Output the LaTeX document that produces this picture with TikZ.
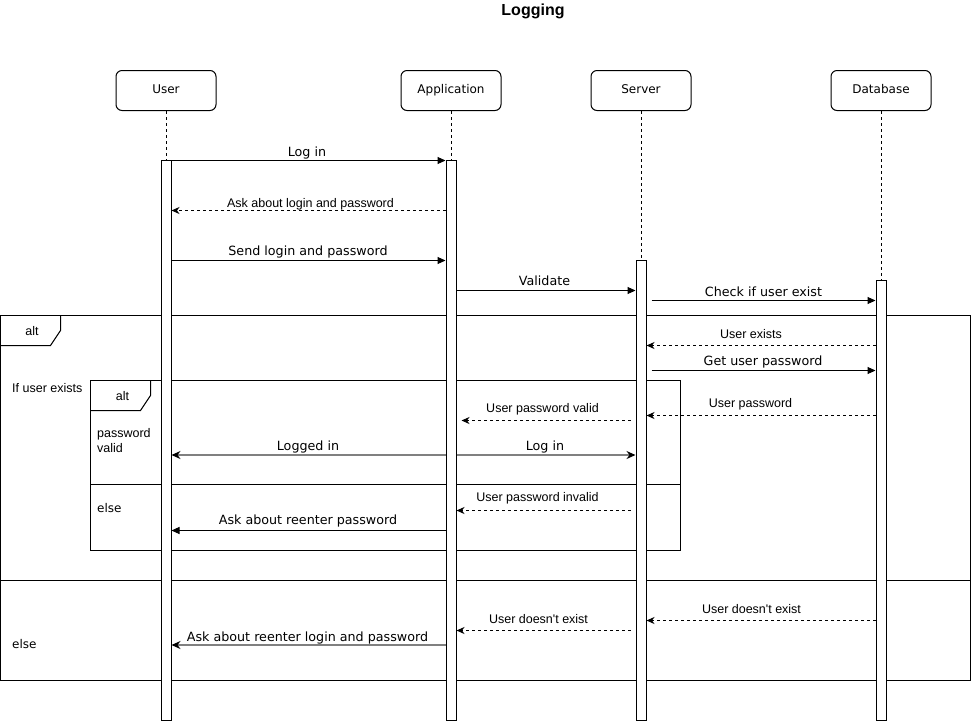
\documentclass[tikz,border=0pt]{standalone}
\usepackage{fontspec}
\setmainfont{DejaVu Sans}
\newfontfamily\arialfont{Liberation Sans}
\usetikzlibrary{arrows.meta}

\begin{document}
\begin{tikzpicture}[x=1pt,y=-1pt,
  every node/.style={inner sep=0pt},
  actor/.style={draw, line width=1pt, rounded corners=6pt, minimum width=100pt,
    minimum height=40pt, font=\fontsize{12}{14}\selectfont},
  bar/.style={draw, fill=white, line width=1pt, minimum width=10pt},
  life/.style={line width=1pt, dash pattern=on 3pt off 3pt},
  frm/.style={draw, line width=1pt},
  call/.style={line width=1pt, -{Triangle[length=8pt,width=7pt]}},
  hcall/.style={line width=2pt, draw=black!50,
    -{Stealth[length=9pt,width=8pt,inset=3pt,color=black]}},
  reply/.style={line width=1pt, dash pattern=on 3pt off 3pt,
    -{Stealth[length=8pt,width=7pt,inset=2.5pt]}},
  lbl/.style={font=\fontsize{12.7}{15}\selectfont, yshift=-0.8pt},
  slbl/.style={font=\arialfont\fontsize{12.5}{15}\selectfont, yshift=-0.8pt},
  guard/.style={font=\fontsize{12}{15}\selectfont, anchor=west, yshift=-0.8pt}
]
\useasboundingbox (0,0) rectangle (971,721);

% title
\node[font=\arialfont\bfseries\fontsize{16}{19}\selectfont, yshift=-0.8pt] (title) at (533,11) {Logging};

% participants
\node[actor, text height=9pt, text depth=2.5pt] (user) at (166,90.5) {User};
\node[actor, text height=9pt, text depth=2.5pt] (app)  at (451,90.5) {Application};
\node[actor, text height=9pt, text depth=2.5pt] (srv)  at (641,90.5) {Server};
\node[actor, text height=9pt, text depth=2.5pt] (db)   at (881,90.5) {Database};

% combined fragments (drawn below the activation bars)
\draw[frm] (0.5,315.5) rectangle (970.5,680.5);
\draw[frm] (0.5,345.5) -- (50.5,345.5) -- (60.5,330.5) -- (60.5,315.5);
\draw[frm] (0.5,580.5) -- (970.5,580.5);
\node[slbl] (alt1) at (32,330) {alt};
\node[slbl, anchor=west] (cond1) at (12,387.5) {If user exists};
\node[guard] (else1) at (12,643) {else};

\draw[frm] (90.5,380.5) rectangle (680.5,550.5);
\draw[frm] (90.5,410.5) -- (140.5,410.5) -- (150.5,395.5) -- (150.5,380.5);
\draw[frm] (90.5,484.5) -- (680.5,484.5);
\node[slbl] (alt2) at (122.5,395) {alt};
\node[slbl, anchor=north west, align=left] (cond2) at (97,427.5) {password\\valid};
\node[guard] (else2) at (97,507) {else};

% lifelines
\node[bar, minimum height=560pt] (ubar) at (166,440.5) {};
\node[bar, minimum height=560pt] (abar) at (451,440.5) {};
\node[bar, minimum height=460pt] (sbar) at (641,490.5) {};
\node[bar, minimum height=440pt] (dbar) at (881,500.5) {};
\draw[life] (user.south) -- (ubar.north);
\draw[life] (app.south) -- (abar.north);
\draw[life] (srv.south) -- (sbar.north);
\draw[life] (db.south) -- (dbar.north);

% message rows
\coordinate (r1) at (0,160.5);
\coordinate (r2) at (0,210.5);
\coordinate (r3) at (0,260.5);
\coordinate (r4) at (0,290.5);
\coordinate (r5) at (0,300.5);
\coordinate (r6) at (0,345.5);
\coordinate (r7) at (0,370.5);
\coordinate (r8) at (0,415.5);
\coordinate (r9) at (0,420.5);
\coordinate (r10) at (0,455);
\coordinate (r11) at (0,510.5);
\coordinate (r12) at (0,530.5);
\coordinate (r13) at (0,620.5);
\coordinate (r14) at (0,630.5);
\coordinate (r15) at (0,645);

% messages
\draw[call] (ubar.east |- r1) -- (abar.west |- r1);
\node[lbl] (m1) at (307,152) {Log in};
\draw[reply] (abar.west |- r2) -- (ubar.east |- r2);
\node[slbl] (m2) at (310.5,203.5) {Ask about login and password};
\draw[call] (ubar.east |- r3) -- (abar.west |- r3);
\node[lbl] (m3) at (308,251) {Send login and password};
\draw[call] (abar.east |- r4) -- (sbar.west |- r4);
\node[lbl] (m4) at (544.5,280) {Validate};
\draw[call, shorten <=5pt] (sbar.east |- r5) -- (dbar.west |- r5);
\node[lbl] (m5) at (763.5,290.5) {Check if user exist};
\draw[reply] (dbar.west |- r6) -- (sbar.east |- r6);
\node[slbl] (m6) at (751,333) {User exists};
\draw[call, shorten <=5pt] (sbar.east |- r7) -- (dbar.west |- r7);
\node[lbl] (m7) at (763,361) {Get user password};
\draw[reply] (dbar.west |- r8) -- (sbar.east |- r8);
\node[slbl] (m8) at (750.5,403) {User password};
\draw[reply, shorten <=5pt, shorten >=5pt] (sbar.west |- r9) -- (abar.east |- r9);
\node[slbl] (m9) at (542.5,408) {User password valid};
\draw[hcall] (abar.west |- r10) -- (ubar.east |- r10);
\node[lbl] (m10) at (308,446) {Logged in};
\draw[hcall] (abar.east |- r10) -- (sbar.west |- r10);
\node[lbl] (m11) at (545,446) {Log in};
\draw[reply, shorten <=5pt] (sbar.west |- r11) -- (abar.east |- r11);
\node[slbl] (m12) at (537.5,497.5) {User password invalid};
\draw[call] (abar.west |- r12) -- (ubar.east |- r12);
\node[lbl] (m13) at (308,520.5) {Ask about reenter password};
\draw[reply] (dbar.west |- r13) -- (sbar.east |- r13);
\node[slbl] (m14) at (751.5,608) {User doesn't exist};
\draw[reply, shorten <=5pt] (sbar.west |- r14) -- (abar.east |- r14);
\node[slbl] (m15) at (538.5,618) {User doesn't exist};
\draw[hcall] (abar.west |- r15) -- (ubar.east |- r15);
\node[lbl] (m16) at (307.5,637) {Ask about reenter login and password};
\end{tikzpicture}
\end{document}
